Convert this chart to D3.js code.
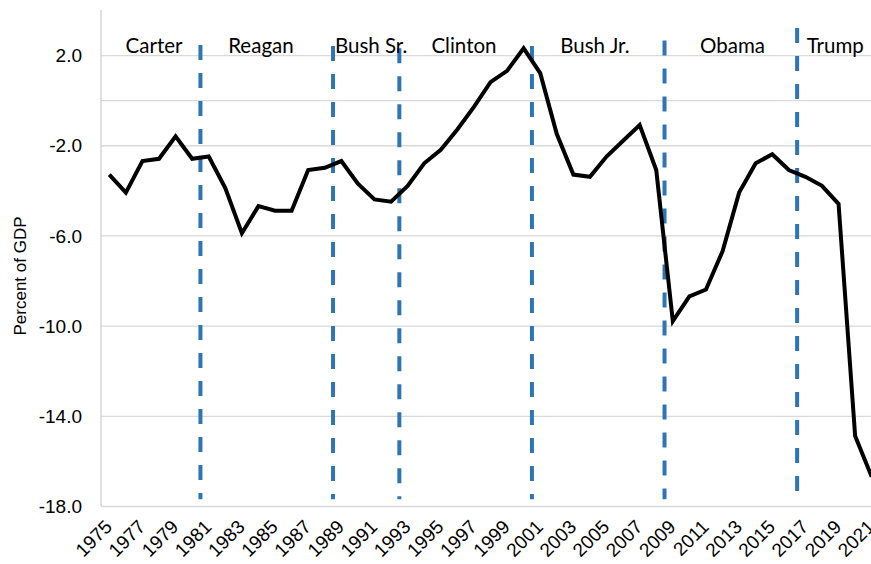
<!DOCTYPE html>
<html>
<head>
<meta charset="utf-8">
<script src="https://cdn.jsdelivr.net/npm/d3@7"></script>
<style>
  body { margin: 0; background: #fff; }
  .grid line { stroke: #d9d9d9; stroke-width: 1.3; }
  .grid path { display: none; }
  .ylab text { font-family: "Liberation Sans", Arial, sans-serif; font-size: 19px; fill: #000; }
  .xlab text { font-family: "Liberation Sans", Arial, sans-serif; font-size: 19px; fill: #000; }
  .term { font-family: Lato, "Open Sans", sans-serif; font-size: 20.5px; fill: #000; }
</style>
</head>
<body>
<script>
// federal budget balance, percent of GDP
var years = d3.range(1975, 2022);
var balance = [-3.3, -4.1, -2.7, -2.6, -1.6, -2.6, -2.5, -3.9, -5.9, -4.7,
  -4.9, -4.9, -3.1, -3.0, -2.7, -3.7, -4.4, -4.5, -3.8, -2.8,
  -2.2, -1.3, -0.3, 0.8, 1.3, 2.3, 1.2, -1.5, -3.3, -3.4,
  -2.5, -1.8, -1.1, -3.1, -9.8, -8.7, -8.4, -6.7, -4.1, -2.8,
  -2.4, -3.1, -3.4, -3.8, -4.6, -14.9, -16.7];
var presidents = ["Carter", "Reagan", "Bush Sr.", "Clinton", "Bush Jr.", "Obama", "Trump"];
var inaugurations = [1981, 1989, 1993, 2001, 2009, 2017];
var yTicks = [2, -2, -6, -10, -14, -18];
var xTicks = years.filter(function(d) { return d % 2 === 1; });

// where the text boxes sit (in year units) and how high the dashed lines reach
var labelAt = [1978.2, 1984.65, 1991.3, 1996.9, 2004.8, 2013.1, 2019.3];
var dashTop = [2.45, 2.4, 2.3, 2.4, 2.65, 3.2];

var width = 871,
    height = 564;
var plotL = 101, plotR = 880, plotT = 10, plotB = 506;

var svg = d3.select("body").append("svg")
    .attr("width", width)
    .attr("height", height);

var x = d3.scaleBand()
    .domain(years)
    .range([plotL, plotR]);
var bw = x.bandwidth();
// fractional year -> pixel, measured from the band edges
var xe = function(yr) { return x(1975) + (yr - 1975) * bw; };

var y = d3.scaleLinear()
    .domain([-18, 4])
    .range([plotB, plotT]);

// gridlines
svg.append("g")
    .attr("class", "grid")
    .attr("transform", "translate(" + plotL + ",0)")
    .call(d3.axisLeft(y).tickValues(yTicks.concat([0])).tickSize(-(plotR - plotL)).tickFormat(""));

// left axis line
svg.append("line")
    .attr("x1", plotL).attr("x2", plotL)
    .attr("y1", plotT).attr("y2", plotB)
    .attr("stroke", "#d0d0d0").attr("stroke-width", 1.3);

// y labels
var ya = svg.append("g")
    .attr("class", "ylab")
    .attr("transform", "translate(" + plotL + ",0)")
    .call(d3.axisLeft(y).tickValues(yTicks).tickSize(0).tickPadding(19)
      .tickFormat(function(d) { return d.toFixed(1); }));
ya.select(".domain").remove();
ya.selectAll("text").attr("dy", "0.35em");

// x labels
var xa = svg.append("g")
    .attr("class", "xlab")
    .attr("transform", "translate(0," + plotB + ")")
    .call(d3.axisBottom(x).tickValues(xTicks).tickSize(0));
xa.select(".domain").remove();
xa.selectAll("text")
    .attr("y", 0).attr("dy", 0)
    .attr("text-anchor", "end")
    .attr("transform", "translate(4,22) rotate(-45)");

// y title
svg.append("text")
    .attr("transform", "translate(26,276) rotate(-90)")
    .attr("text-anchor", "middle")
    .style("font-family", "'Liberation Sans', Arial, sans-serif")
    .style("font-size", "17px")
    .text("Percent of GDP");

// dashed term lines
svg.append("g")
  .selectAll("line")
    .data(inaugurations)
  .enter().append("line")
    .attr("x1", function(d) { return x(d); })
    .attr("x2", function(d) { return x(d); })
    .attr("y1", function(d, i) { return y(dashTop[i]); })
    .attr("y2", y(-17.7))
    .attr("stroke", "#2e75b6")
    .attr("stroke-width", 4)
    .attr("stroke-dasharray", "15,13");

// the balance line
var line = d3.line()
    .x(function(d, i) { return x(years[i]) + bw / 2; })
    .y(function(d) { return y(d); });

svg.append("path")
    .datum(balance)
    .attr("fill", "none")
    .attr("stroke", "#000")
    .attr("stroke-width", 4)
    .attr("stroke-linejoin", "miter")
    .attr("d", line);

// president names
svg.append("g")
  .selectAll("text")
    .data(presidents)
  .enter().append("text")
    .attr("class", "term")
    .attr("x", function(d, i) { return xe(labelAt[i]); })
    .attr("y", 53)
    .attr("text-anchor", "middle")
    .text(function(d) { return d; });
</script>
</body>
</html>
